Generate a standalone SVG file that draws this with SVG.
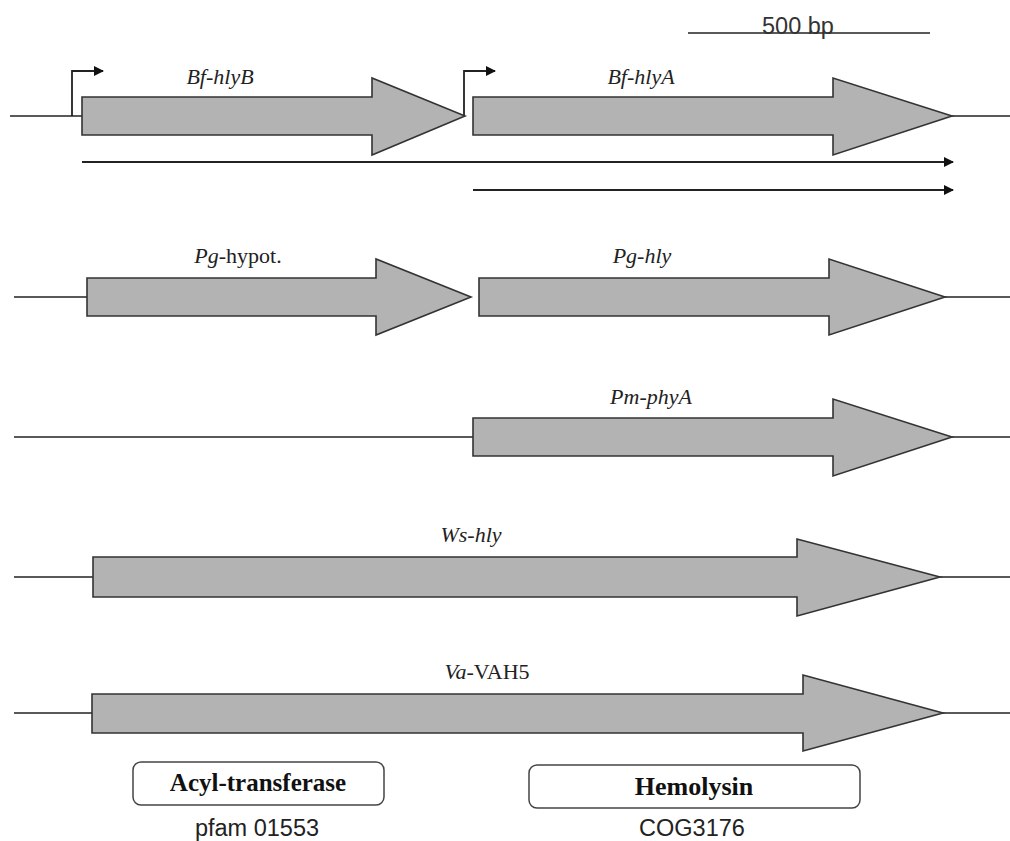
<svg xmlns="http://www.w3.org/2000/svg" width="1010" height="841" viewBox="0 0 1010 841">
<style>
.bb{stroke:#222;stroke-width:1.5;fill:none}
.gene{fill:#b3b3b3;stroke:#333;stroke-width:1.6;stroke-linejoin:miter}
.lbl{font-family:"Liberation Serif",serif;font-size:22px;fill:#222;text-anchor:middle}
.it{font-style:italic}
.ln{stroke:#222;stroke-width:1.8;fill:none}
.box{fill:#fff;stroke:#444;stroke-width:1.5}
.dom{font-family:"Liberation Serif",serif;font-size:25px;font-weight:bold;fill:#111;text-anchor:middle}
.sub{font-family:"Liberation Sans",sans-serif;font-size:23.5px;fill:#222;text-anchor:middle}
</style>
<defs>
<marker id="ah" viewBox="0 0 10 10" refX="9" refY="5" markerWidth="10" markerHeight="10" markerUnits="userSpaceOnUse" orient="auto">
<path d="M0,0 L10,5 L0,10 z" fill="#111"/>
</marker>
</defs>

<g id="scale">
<line class="bb" x1="688" y1="33" x2="930" y2="33"/>
<text x="798" y="34" class="sub" style="fill:#333">500 bp</text>
</g>

<g id="connectors">
<line class="bb" x1="10" y1="116" x2="82" y2="116"/>
<line class="bb" x1="952" y1="116" x2="1010" y2="116"/>
<path class="ln" d="M72,116 V71 H103" marker-end="url(#ah)"/>
<path class="ln" d="M464,116 V71 H495" marker-end="url(#ah)"/>
<line class="ln" x1="82" y1="162" x2="953" y2="162" marker-end="url(#ah)"/>
<line class="ln" x1="473" y1="190" x2="953" y2="190" marker-end="url(#ah)"/>
<line class="bb" x1="14" y1="297" x2="87" y2="297"/>
<line class="bb" x1="945" y1="297" x2="1010" y2="297"/>
<line class="bb" x1="14" y1="437" x2="473" y2="437"/>
<line class="bb" x1="952" y1="437" x2="1010" y2="437"/>
<line class="bb" x1="14" y1="577" x2="93" y2="577"/>
<line class="bb" x1="940" y1="577" x2="1010" y2="577"/>
<line class="bb" x1="14" y1="713" x2="92" y2="713"/>
<line class="bb" x1="943" y1="713" x2="1010" y2="713"/>
</g>

<g id="bf-hlyB">
<path class="gene" d="M82,97 H372 V78 L465,116 L372,155 V135 H82 Z"/>
<text x="220" y="84" class="lbl it">Bf-hlyB</text>
</g>
<g id="bf-hlyA">
<path class="gene" d="M473,97 H833 V78 L952,116 L833,155 V135 H473 Z"/>
<text x="641" y="84" class="lbl it">Bf-hlyA</text>
</g>

<g id="pg-hypot">
<path class="gene" d="M87,278 H376 V259 L471,297 L376,335 V316 H87 Z"/>
<text x="238" y="263" class="lbl"><tspan class="it">Pg</tspan>-hypot.</text>
</g>
<g id="pg-hly">
<path class="gene" d="M479,278 H829 V259 L945,297 L829,335 V316 H479 Z"/>
<text x="642" y="263" class="lbl it">Pg-hly</text>
</g>

<g id="pm-phyA">
<path class="gene" d="M473,418 H833 V399 L952,437 L833,476 V456 H473 Z"/>
<text x="651" y="404" class="lbl it">Pm-phyA</text>
</g>

<g id="ws-hly">
<path class="gene" d="M93,557 H797 V539 L940,577 L797,616 V597 H93 Z"/>
<text x="471" y="542" class="lbl it">Ws-hly</text>
</g>

<g id="va-vah5">
<path class="gene" d="M92,694 H803 V675 L943,713 L803,751 V733 H92 Z"/>
<text x="487" y="679" class="lbl"><tspan class="it">Va</tspan>-VAH5</text>
</g>

<g id="acyl">
<rect class="box" x="133" y="762" width="251" height="43" rx="8"/>
<text x="258" y="791" class="dom">Acyl-transferase</text>
<text x="257" y="836" class="sub">pfam 01553</text>
</g>
<g id="hemolysin">
<rect class="box" x="529" y="765" width="331" height="43" rx="8"/>
<text x="694" y="795" class="dom" style="font-size:26px">Hemolysin</text>
<text x="692" y="836" class="sub">COG3176</text>
</g>
</svg>
